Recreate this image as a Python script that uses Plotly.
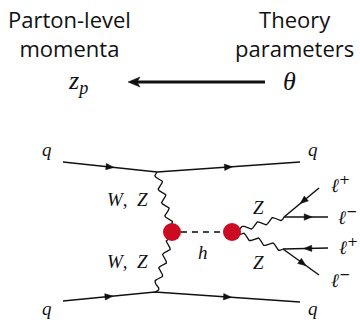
import numpy as np
import plotly.graph_objects as go

# ---- diagram geometry (pixel space, y grows downward) ----
W_PX, H_PX = 360, 320

# incoming / outgoing quark lines: left end, vertex, right end
QUARK_TOP_X = [63, 157, 300]
QUARK_TOP_Y = [162, 172, 162]
QUARK_BOT_X = [63, 155, 300]
QUARK_BOT_Y = [301, 292, 302]

# effective vertices (red blobs): WW/ZZ fusion and h -> ZZ
BLOB_X = [172, 232]
BLOB_Y = [232, 232]
BLOB_R = 9

# Z decay vertices
ZVTX_X = [284, 283]
ZVTX_Y = [217, 249]

# lepton line ends: l+, l-, l+, l-
LEP_X = [319, 328, 328, 319]
LEP_Y = [188, 217, 248, 275]
LEP_VTX = [0, 0, 1, 1]           # which Z vertex each lepton attaches to
LEP_INCOMING = [True, False, True, False]  # fermion-flow arrow points to vertex

# text labels
LABEL_TEXT = ["<i>q</i>", "<i>q</i>", "<i>q</i>", "<i>q</i>",
              "<i>W</i>,  <i>Z</i>", "<i>W</i>,  <i>Z</i>", "<i>h</i>",
              "<i>Z</i>", "<i>Z</i>"]
LABEL_X = [47, 313, 47, 313, 127, 127, 203, 258, 258]
LABEL_Y = [149, 149, 308, 308, 199, 261, 252, 207, 262]

LEP_TEXT = ["<i>ℓ</i><sup>+</sup>", "<i>ℓ</i><sup>−</sup>",
            "<i>ℓ</i><sup>+</sup>", "<i>ℓ</i><sup>−</sup>"]
LEP_LABEL_X = [340, 347, 348, 340]
LEP_LABEL_Y = [184, 216, 246, 279]

HEAD_LEFT = "Parton-level<br>momenta"
HEAD_RIGHT = "Theory<br>parameters"
HEAD_X = [69, 294]
HEAD_Y = 33

MATH_LEFT, MATH_RIGHT = "<i>z<sub>p</sub></i>", "<i>θ</i>"
MATH_X = [78, 289]
MATH_Y = [82, 81]
ARROW_X = [265, 128]
ARROW_Y = 82

RED = "#cc0a24"
INK = "#111111"
SERIF = "Liberation Serif, DejaVu Serif, serif"
SANS = "Open Sans, Noto Sans, sans-serif"

fig = go.Figure()
shapes = []


def arrow_head(x0, y0, x1, y1, frac=0.5, length=8, half=3.2):
    """Filled triangle on segment (x0,y0)->(x1,y1) pointing along it."""
    dx, dy = x1 - x0, y1 - y0
    L = np.hypot(dx, dy)
    ux, uy = dx / L, dy / L
    px, py = -uy, ux
    cx, cy = x0 + dx * frac, y0 + dy * frac
    tip = (cx + ux * length / 2, cy + uy * length / 2)
    bx, by = cx - ux * length / 2, cy - uy * length / 2
    a = (bx + px * half, by + py * half)
    b = (bx - px * half, by - py * half)
    path = f"M{tip[0]},{tip[1]} L{a[0]},{a[1]} L{b[0]},{b[1]} Z"
    return dict(type="path", path=path, xref="x", yref="y",
                fillcolor=INK, line=dict(color=INK, width=0.5))


def wavy(x0, y0, x1, y1, cycles, amp=3.0, n=240):
    """Photon-style sine line between two points."""
    t = np.linspace(0, 1, n)
    dx, dy = x1 - x0, y1 - y0
    L = np.hypot(dx, dy)
    px, py = -dy / L, dx / L
    off = amp * np.sin(2 * np.pi * cycles * t)
    return x0 + dx * t + px * off, y0 + dy * t + py * off


def add_line(xs, ys, width=1.5, color=INK, dash=None):
    fig.add_trace(go.Scatter(x=list(xs), y=list(ys), mode="lines",
                             line=dict(color=color, width=width, dash=dash),
                             hoverinfo="skip", showlegend=False))


# quark lines with fermion-flow arrows
for qx, qy in ((QUARK_TOP_X, QUARK_TOP_Y), (QUARK_BOT_X, QUARK_BOT_Y)):
    add_line(qx, qy, width=1.6)
    shapes.append(arrow_head(qx[0], qy[0], qx[1], qy[1], frac=0.5))
    shapes.append(arrow_head(qx[1], qy[1], qx[2], qy[2], frac=0.5))

# W/Z exchange bosons down to the fusion blob
for vx, vy in ((QUARK_TOP_X[1], QUARK_TOP_Y[1]), (QUARK_BOT_X[1], QUARK_BOT_Y[1])):
    wx, wy = wavy(vx, vy, BLOB_X[0], BLOB_Y[0], cycles=4.5, amp=3.0)
    add_line(wx, wy, width=1.3)

# Higgs propagator
add_line([BLOB_X[0] + BLOB_R, BLOB_X[1] - BLOB_R], [BLOB_Y[0], BLOB_Y[1]],
         width=2.2, color="#444444", dash="6px,5px")

# Z bosons from the decay blob
for zx, zy in zip(ZVTX_X, ZVTX_Y):
    wx, wy = wavy(BLOB_X[1], BLOB_Y[1], zx, zy, cycles=3.5, amp=2.6)
    add_line(wx, wy, width=1.3)

# leptons
for lx, ly, vi, inc in zip(LEP_X, LEP_Y, LEP_VTX, LEP_INCOMING):
    vx, vy = ZVTX_X[vi], ZVTX_Y[vi]
    add_line([vx, lx], [vy, ly], width=1.5)
    if inc:
        shapes.append(arrow_head(lx, ly, vx, vy, frac=0.45))
    else:
        shapes.append(arrow_head(vx, vy, lx, ly, frac=0.55))

# red blobs
for bx, by in zip(BLOB_X, BLOB_Y):
    shapes.append(dict(type="circle", xref="x", yref="y",
                       x0=bx - BLOB_R, x1=bx + BLOB_R, y0=by - BLOB_R, y1=by + BLOB_R,
                       fillcolor=RED, line=dict(color=RED, width=0)))

# big arrow theta -> z_p
shapes.append(dict(type="line", xref="x", yref="y", x0=ARROW_X[0], x1=ARROW_X[1] + 8,
                   y0=ARROW_Y, y1=ARROW_Y, line=dict(color=INK, width=3)))
tx = ARROW_X[1]
shapes.append(dict(type="path", xref="x", yref="y",
                   path=f"M{tx},{ARROW_Y} L{tx + 12},{ARROW_Y - 5} L{tx + 9},{ARROW_Y} "
                        f"L{tx + 12},{ARROW_Y + 5} Z",
                   fillcolor=INK, line=dict(color=INK, width=0.5)))

annotations = []
for txt, x, y in zip(LABEL_TEXT, LABEL_X, LABEL_Y):
    annotations.append(dict(text=txt, x=x, y=y, xref="x", yref="y", showarrow=False,
                            xanchor="center", yanchor="middle",
                            font=dict(family=SERIF, size=19, color=INK)))
for txt, x, y in zip(LEP_TEXT, LEP_LABEL_X, LEP_LABEL_Y):
    annotations.append(dict(text=txt, x=x, y=y, xref="x", yref="y", showarrow=False,
                            xanchor="center", yanchor="middle",
                            font=dict(family="DejaVu Serif, serif", size=19, color=INK)))
for txt, x in zip([HEAD_LEFT, HEAD_RIGHT], HEAD_X):
    annotations.append(dict(text=txt, x=x, y=HEAD_Y, xref="x", yref="y", showarrow=False,
                            xanchor="center", yanchor="middle", align="center",
                            font=dict(family=SANS, size=22, color=INK)))
for txt, x, y in zip([MATH_LEFT, MATH_RIGHT], MATH_X, MATH_Y):
    annotations.append(dict(text=txt, x=x, y=y, xref="x", yref="y", showarrow=False,
                            xanchor="center", yanchor="middle",
                            font=dict(family=SERIF, size=26, color=INK)))

fig.update_layout(
    width=W_PX, height=H_PX, margin=dict(l=0, r=0, t=0, b=0),
    paper_bgcolor="white", plot_bgcolor="white",
    xaxis=dict(range=[0, W_PX], visible=False, fixedrange=True),
    yaxis=dict(range=[H_PX, 0], visible=False, fixedrange=True),
    shapes=shapes, annotations=annotations, showlegend=False,
)

fig.write_html("out.html", config=dict(displayModeBar=False))
